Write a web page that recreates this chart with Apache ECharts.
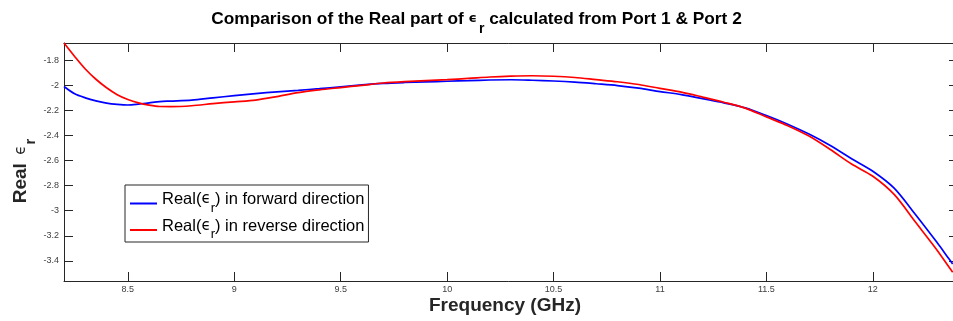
<!DOCTYPE html>
<html>
<head>
<meta charset="utf-8">
<script src="https://cdn.jsdelivr.net/npm/echarts@6/dist/echarts.min.js"></script>
<style>
html,body{margin:0;padding:0;background:#fff;}
#c{width:953px;height:321px;}
</style>
</head>
<body>
<div id="c"></div>
<script>
const freq = [8.2,8.25,8.3,8.35,8.4,8.45,8.5,8.55,8.6,8.65,8.7,8.8,8.9,9.0,9.1,9.2,9.3,9.4,9.5,9.6,9.7,9.8,9.9,10.0,10.1,10.2,10.3,10.4,10.5,10.6,10.7,10.8,10.9,11.0,11.1,11.2,11.3,11.4,11.5,11.6,11.7,11.8,11.9,12.0,12.1,12.2,12.3,12.35,12.375];
const reverseReal = [-1.663,-1.77,-1.87,-1.952,-2.02,-2.075,-2.113,-2.14,-2.158,-2.169,-2.17,-2.163,-2.146,-2.132,-2.118,-2.09,-2.058,-2.036,-2.018,-2.0,-1.982,-1.971,-1.963,-1.955,-1.945,-1.934,-1.927,-1.924,-1.928,-1.938,-1.955,-1.972,-1.994,-2.025,-2.055,-2.094,-2.135,-2.182,-2.252,-2.322,-2.405,-2.512,-2.628,-2.725,-2.87,-3.09,-3.31,-3.43,-3.49];
const forwardReal = [-2.01,-2.068,-2.1,-2.124,-2.142,-2.152,-2.157,-2.15,-2.14,-2.13,-2.126,-2.118,-2.1,-2.083,-2.066,-2.052,-2.04,-2.027,-2.012,-1.997,-1.985,-1.978,-1.973,-1.968,-1.963,-1.958,-1.956,-1.96,-1.966,-1.975,-1.988,-2.002,-2.023,-2.05,-2.074,-2.107,-2.14,-2.18,-2.241,-2.31,-2.389,-2.48,-2.585,-2.685,-2.82,-3.03,-3.25,-3.366,-3.425];
const xTicks = [8.5,9,9.5,10,10.5,11,11.5,12];
const yTicks = [-1.8,-2,-2.2,-2.4,-2.6,-2.8,-3,-3.2,-3.4];
const seriesNames = ['fwd','rev'];

const axisColor = '#262626';
const labelColor = '#404040';
const pairs = (ys) => freq.map((f, i) => [f, ys[i]]);

const chart = echarts.init(document.getElementById('c'), null, {renderer: 'canvas'});
const legendRich = {
  a: {fontSize: 16.5, fontFamily: 'Liberation Sans', color: '#000', lineHeight: 20},
  e: {fontSize: 15, fontFamily: 'DejaVu Sans', color: '#000', lineHeight: 20},
  s: {fontSize: 13, fontFamily: 'Liberation Sans', color: '#000', lineHeight: 13, verticalAlign: 'bottom', padding: [0, 0, -5, 0]}
};
chart.setOption({
  animation: false,
  backgroundColor: '#fff',
  title: {
    text: '{a|Comparison of the Real part of }{e|ϵ}{s|r}{a| calculated from Port 1 & Port 2}',
    left: 'center',
    top: 3,
    textStyle: {
      rich: {
        a: {fontSize: 17.3, fontWeight: 'bold', fontFamily: 'Liberation Sans', color: '#000', lineHeight: 22},
        e: {fontSize: 13, fontFamily: 'DejaVu Sans', color: '#000', lineHeight: 22, padding: [0, 2, 0, 0]},
        s: {fontSize: 14, fontWeight: 'bold', fontFamily: 'Liberation Sans', color: '#000', lineHeight: 14, verticalAlign: 'bottom', padding: [0, 0, -6, 0]}
      }
    }
  },
  grid: {left: 64, right: -5, top: 43, bottom: 40, outerBoundsMode: 'none', containLabel: false},
  legend: {
    orient: 'vertical',
    left: 125,
    top: 185,
    data: seriesNames,
    formatter: (n) => n === 'fwd' ? '{a|Real(}{e|ϵ}{s|r}{a|) in forward direction}' : '{a|Real(}{e|ϵ}{s|r}{a|) in reverse direction}',
    icon: 'path://M0,0 M0,8 L27,8 L27,10 L0,10 Z',
    itemWidth: 27,
    itemHeight: 10,
    itemGap: 3,
    padding: [6, 4, 1, 5],
    borderColor: axisColor,
    borderWidth: 1,
    backgroundColor: '#fff',
    textStyle: {rich: legendRich}
  },
  xAxis: [{
    type: 'value', min: 8.2, max: 12.4, position: 'bottom',
    name: 'Frequency (GHz)', nameLocation: 'middle', nameGap: 15, nameMoveOverlap: false,
    nameTextStyle: {fontSize: 19, fontWeight: 'bold', fontFamily: 'Liberation Sans', color: '#262626', padding: [0, 12, 0, 0]},
    axisLine: {lineStyle: {color: axisColor, width: 1}},
    axisTick: {inside: true, length: 9, customValues: xTicks, lineStyle: {color: axisColor}},
    axisLabel: {customValues: xTicks, fontSize: 9, fontFamily: 'Liberation Sans', color: labelColor, margin: 4},
    splitLine: {show: false}
  }, {
    type: 'value', min: 8.2, max: 12.4, position: 'top',
    axisLine: {lineStyle: {color: axisColor, width: 1}},
    axisTick: {inside: true, length: 9, customValues: xTicks, lineStyle: {color: axisColor}},
    axisLabel: {show: false},
    splitLine: {show: false}
  }],
  yAxis: [{
    type: 'value', min: -3.56, max: -1.663, position: 'left',
    name: '{a|Real }{e|ϵ}{s|r}', nameLocation: 'middle', nameGap: 32, nameMoveOverlap: false,
    nameTextStyle: {
      padding: [0, 18, 0, 0],
      rich: {
        a: {fontSize: 19, fontWeight: 'bold', fontFamily: 'Liberation Sans', color: '#262626', lineHeight: 22},
        e: {fontSize: 15, fontFamily: 'DejaVu Sans', color: '#262626', lineHeight: 22, padding: [0, 0, 0, 3]},
        s: {fontSize: 15, fontWeight: 'bold', fontFamily: 'Liberation Sans', color: '#262626', lineHeight: 15, verticalAlign: 'bottom', padding: [0, 0, -6, 1]}
      }
    },
    axisLine: {lineStyle: {color: axisColor, width: 1}},
    axisTick: {inside: true, length: 9, customValues: yTicks, lineStyle: {color: axisColor}},
    axisLabel: {customValues: yTicks, fontSize: 9, fontFamily: 'Liberation Sans', color: labelColor, margin: 5},
    splitLine: {show: false}
  }, {
    type: 'value', min: -3.56, max: -1.663, position: 'right',
    axisLine: {lineStyle: {color: axisColor, width: 1}},
    axisTick: {inside: true, length: 9, customValues: yTicks, lineStyle: {color: axisColor}},
    axisLabel: {show: false},
    splitLine: {show: false}
  }],
  series: [{
    name: 'fwd', type: 'line', xAxisIndex: 0, yAxisIndex: 0,
    data: pairs(forwardReal), showSymbol: false, smooth: 0.3,
    itemStyle: {color: '#0000ff'}, lineStyle: {color: '#0000ff', width: 1.7}, z: 3
  }, {
    name: 'rev', type: 'line', xAxisIndex: 0, yAxisIndex: 0,
    data: pairs(reverseReal), showSymbol: false, smooth: 0.3,
    itemStyle: {color: '#ff0000'}, lineStyle: {color: '#ff0000', width: 1.7}, z: 4
  }]
});
</script>
</body>
</html>
